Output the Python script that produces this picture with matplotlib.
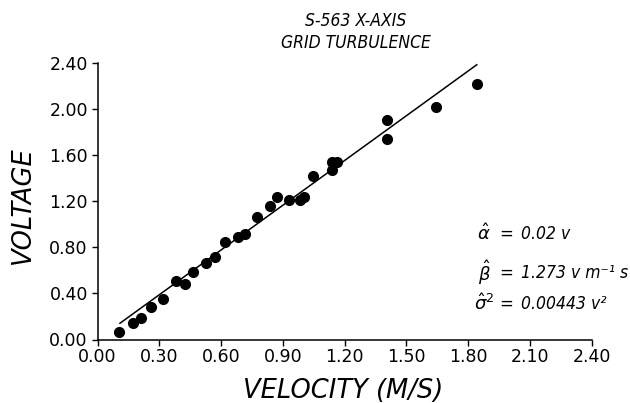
import matplotlib
matplotlib.use("Agg")
import matplotlib.pyplot as plt

# Data
velocity = [0.106, 0.171, 0.211, 0.260, 0.317, 0.380, 0.423, 0.464, 0.525, 0.571,
            0.618, 0.682, 0.718, 0.775, 0.836, 0.870, 0.930, 0.982, 1.001, 1.045,
            1.139, 1.140, 1.165, 1.408, 1.408, 1.642, 1.843]
voltage = [0.062, 0.140, 0.189, 0.285, 0.349, 0.508, 0.482, 0.583, 0.661, 0.716,
           0.849, 0.893, 0.913, 1.061, 1.156, 1.237, 1.211, 1.214, 1.240, 1.419,
           1.474, 1.538, 1.541, 1.908, 1.738, 2.021, 2.221]
fit_x = [0.109, 1.842]
fit_y = [0.141, 2.385]
xticks = [0.00, 0.30, 0.60, 0.90, 1.20, 1.50, 1.80, 2.10, 2.40]
yticks = [0.00, 0.40, 0.80, 1.20, 1.60, 2.00, 2.40]
title_lines = ["S-563 X-AXIS", "GRID TURBULENCE"]
stat_symbols = [r"$\hat{\alpha}$", r"$\hat{\beta}$", r"$\hat{\sigma}^{2}$"]
stat_values = ["0.02 v", "1.273 v m⁻¹ s", "0.00443 v²"]

W, H = 630, 403
fig = plt.figure(figsize=(W / 100, H / 100), dpi=100)
ax = fig.add_axes([97.5 / W, 1 - 339.5 / H, (591.7 - 97.5) / W, (339.5 - 63) / H])

ax.plot(fit_x, fit_y, color="black", lw=1.1)
ax.plot(velocity, voltage, "o", color="black", ms=7, mec="black")

ax.set_xlim(0, 2.4)
ax.set_ylim(0, 2.4)
ax.set_xticks(xticks)
ax.set_yticks(yticks)
ax.set_xticklabels([f"{v:.2f}" for v in xticks])
ax.set_yticklabels([f"{v:.2f}" for v in yticks])
for s in ["top", "right"]:
    ax.spines[s].set_visible(False)
for s in ["left", "bottom"]:
    ax.spines[s].set_linewidth(1.1)
    ax.spines[s].set_clip_on(False)
ax.tick_params(direction="out", length=4, width=1.0, labelsize=12.5, pad=2)
ax.tick_params(axis="y", pad=3)

fs = lambda px, py: (px / W, 1 - py / H)

fig.text(*fs(343, 391), "VELOCITY (M/S)", fontsize=18.5, style="italic",
         ha="center", va="center")
fig.text(*fs(22.5, 205), "VOLTAGE", fontsize=18.5, style="italic", rotation=90,
         ha="center", va="center")
fig.text(*fs(355.5, 20.5), title_lines[0], fontsize=12.5, style="italic",
         ha="center", va="center", fontstretch="condensed")
fig.text(*fs(356, 42.5), title_lines[1], fontsize=12.5, style="italic",
         ha="center", va="center", fontstretch="condensed")

rows_y = [234, 273, 304]
for sym, val, py in zip(stat_symbols, stat_values, rows_y):
    fig.text(*fs(484, py), sym, fontsize=13, ha="center", va="center")
    fig.text(*fs(506, py), "=", fontsize=12, ha="center", va="center")
    fig.text(*fs(521, py), val, fontsize=12.5, style="italic", ha="left", va="center",
             fontstretch="condensed")

fig.savefig("out.png", dpi=100)
